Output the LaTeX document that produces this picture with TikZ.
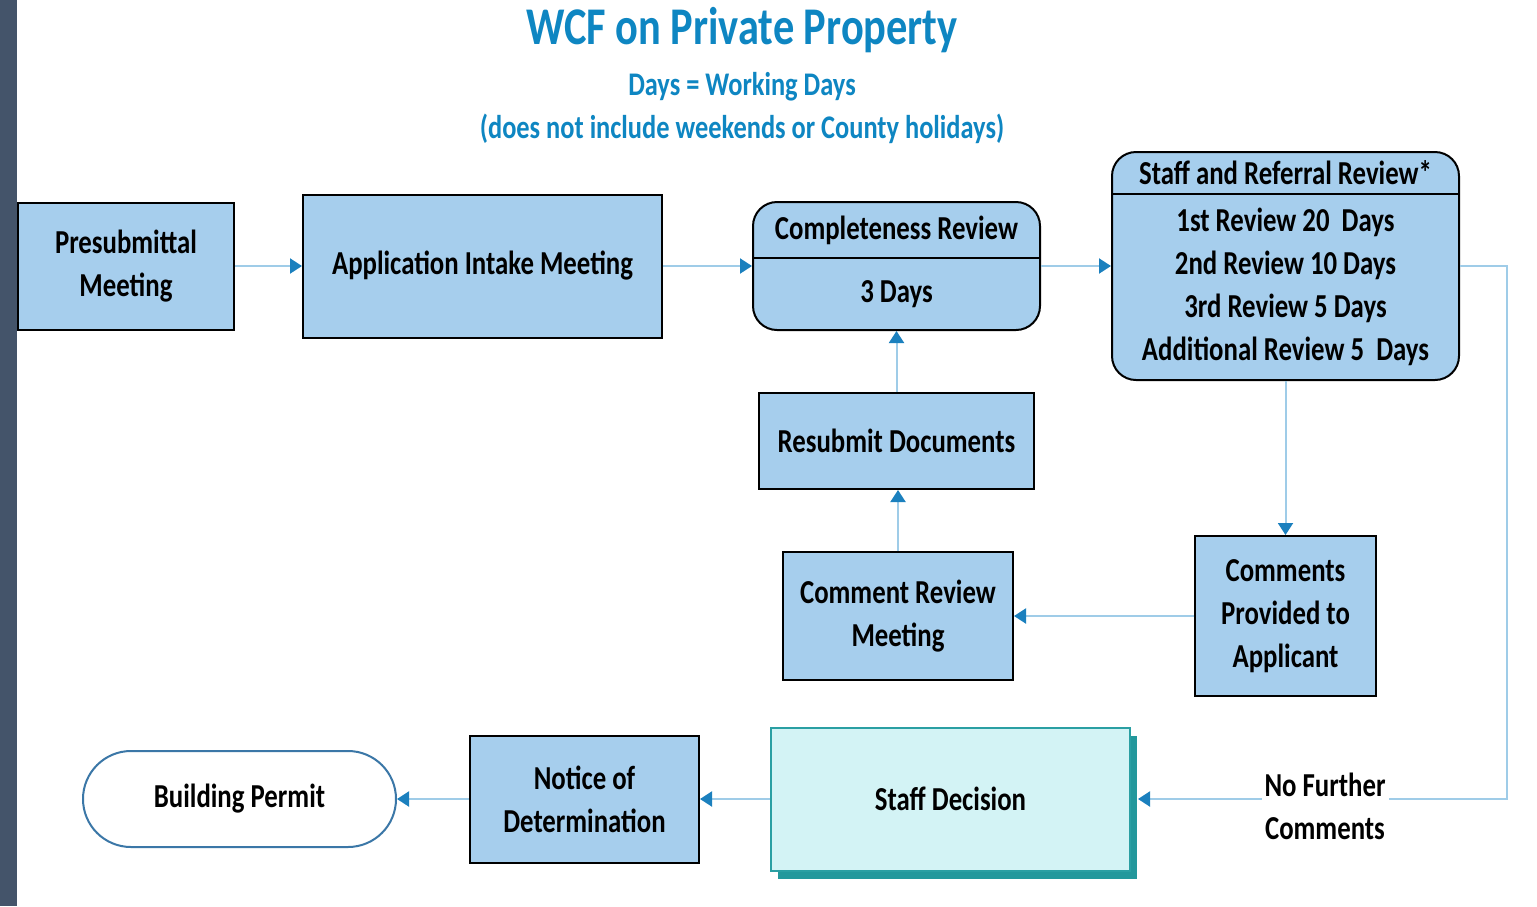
\documentclass[tikz,border=0pt]{standalone}
\usepackage{fontspec}
\setmainfont{Carlito}[FakeStretch=0.8]
\usetikzlibrary{arrows.meta,shadows}
\definecolor{boxfill}{HTML}{A6CEED}
\definecolor{linkblue}{HTML}{9FCCE8}
\definecolor{tipblue}{HTML}{1B80BE}
\definecolor{titleblue}{HTML}{0E86C2}
\definecolor{sdfill}{HTML}{D3F3F5}
\definecolor{sdborder}{HTML}{2A9FA3}
\definecolor{sdshadow}{HTML}{23989C}
\definecolor{bpborder}{HTML}{3B77A7}
\definecolor{leftbar}{HTML}{44546A}
\tikzset{
  bx/.style={draw=black, line width=2pt, fill=boxfill, inner sep=0pt, align=center,
    font=\bfseries\fontsize{33.5}{43}\selectfont},
  rbx/.style={bx, rounded corners=24pt},
  txt/.style={inner sep=0pt, align=center, font=\bfseries\fontsize{33.5}{43}\selectfont},
  link/.style={draw=linkblue, line width=2pt,
    -{Triangle[length=12pt,width=15pt,color=tipblue,fill=tipblue]}},
}
\begin{document}
\begin{tikzpicture}[x=1pt,y=-1pt]
\useasboundingbox (0,0) rectangle (1537,906);
\fill[white] (0,0) rectangle (1537,906);
\fill[leftbar] (0,0) rectangle (17,906);

% titles
\node[txt, text=titleblue, font=\bfseries\fontsize{53}{56}\selectfont] (title) at (742,30) {WCF on Private Property};
\node[txt, text=titleblue, font=\bfseries\fontsize{33}{40}\selectfont] (sub1) at (742,87) {Days = Working Days};
\node[txt, text=titleblue, font=\bfseries\fontsize{33}{40}\selectfont] (sub2) at (742,129) {(does not include weekends or County holidays)};

% boxes
\node[bx, minimum width=216pt, minimum height=127pt] (pre) at (126,266) {Presubmittal\\Meeting};
\node[bx, minimum width=359pt, minimum height=143pt] (app) at (482.5,266) {Application Intake Meeting};
\node[rbx, minimum width=287pt, minimum height=128pt] (cr) at (896.5,266) {};
\draw[line width=2pt] (cr.west |- 0,258) -- (cr.east |- 0,258);
\node[txt] (crh) at (896.5,230) {Completeness Review};
\node[txt] (crd) at (896.5,294) {3 Days};

\node[rbx, minimum width=347pt, minimum height=228pt] (srr) at (1285.5,266) {};
\draw[line width=2pt] (srr.west |- 0,194) -- (srr.east |- 0,194);
\node[txt] (srrh) at (1285.5,173) {Staff and Referral Review*};
\node[txt] (srrb) at (1285.5,287) {1st Review 20\ \ Days\\2nd Review 10 Days\\3rd Review 5 Days\\Additional Review 5\ \ Days};

\node[bx, minimum width=275pt, minimum height=96pt] (rd) at (896.5,441) {Resubmit Documents};
\node[bx, minimum width=230pt, minimum height=128pt] (crm) at (898,616) {Comment Review\\Meeting};
\node[bx, minimum width=181pt, minimum height=160pt] (cpa) at (1285.5,616) {Comments\\Provided to\\Applicant};

\node[bx, draw=sdborder, fill=sdfill, minimum width=359pt, minimum height=143pt,
  drop shadow={shadow xshift=7pt, shadow yshift=-8pt, fill=sdshadow, opacity=1}] (sd) at (950.5,799) {Staff Decision};
\node[bx, minimum width=229pt, minimum height=127pt] (nod) at (584.5,799) {Notice of\\Determination};
\node[bx, draw=bpborder, fill=white, rounded corners=48pt, minimum width=313pt, minimum height=96pt] (bp) at (239.5,799) {Building Permit};

% connectors
\draw[link] (pre.east) -- (app.west);
\draw[link] (app.east) -- (cr.west);
\draw[link] (cr.east) -- (srr.west);
\coordinate (turn) at (1507,266);
\coordinate (sdin) at (1138,799);
\draw[link] (srr.east) -- (turn) |- (sdin);
\node[txt, fill=white, inner sep=3pt] (nfc) at (1325,806) {No Further\\Comments};
\draw[link] (srr.south) -- (cpa.north);
\draw[link] (cpa.west) -- (crm.east);
\draw[link] (crm.north) -- (crm.north |- rd.south);
\draw[link] (rd.north) -- (rd.north |- cr.south);
\draw[link] (sd.west) -- (nod.east);
\draw[link] (nod.west) -- (bp.east);
\end{tikzpicture}
\end{document}
